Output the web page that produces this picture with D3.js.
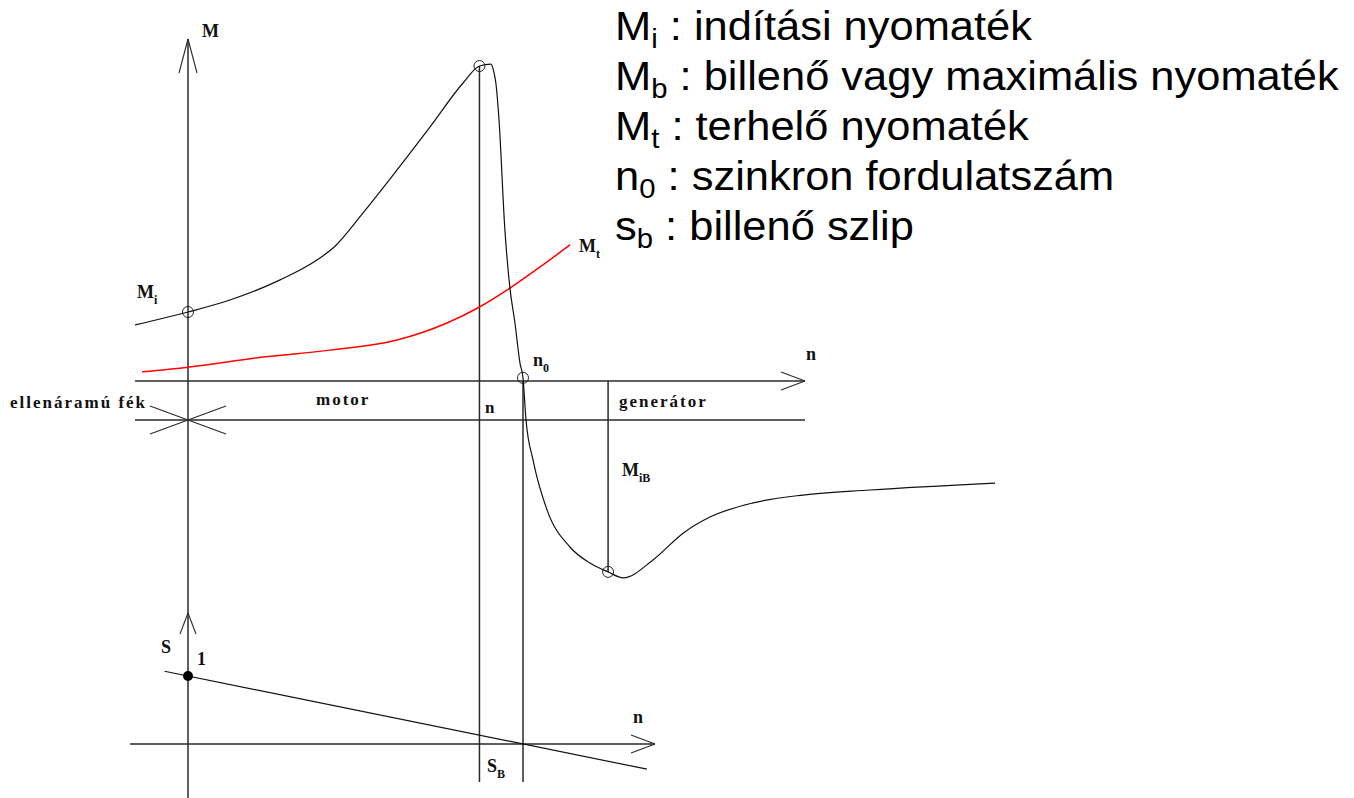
<!DOCTYPE html>
<html>
<head>
<meta charset="utf-8">
<script src="https://cdn.jsdelivr.net/npm/d3@7"></script>
<style>
    body { margin: 0; background: #fff; }
    svg { display: block; }
    .lbl { font-family: "Liberation Serif", "Times New Roman", serif; font-weight: bold; font-size: 18px; fill: #111; }
    .band { font-size: 17px; letter-spacing: 2px; }
    .legend { font-family: "Liberation Sans", Arial, sans-serif; font-size: 40px; fill: #000; }
</style>
</head>
<body>
<div id="chart"></div>
<script>
// n is relative speed (n/n0), M is torque relative to the breakdown torque Mb
const torqueN = [-0.158, 0, 0.125, 0.275, 0.385, 0.433, 0.522, 0.624, 0.722, 0.821, 0.87,
                 0.904, 0.913, 0.919, 0.928, 0.946, 0.961, 0.976, 0.991, 1.0, 1.009, 1.03,
                 1.072, 1.14, 1.2, 1.254, 1.299, 1.388, 1.478, 1.558, 1.687, 1.836, 2.036, 2.409];
const torqueM = [0.178, 0.219, 0.257, 0.321, 0.384, 0.422, 0.533, 0.67, 0.806, 0.946, 1.0,
                 1.006, 0.981, 0.946, 0.835, 0.479, 0.295, 0.184, 0.057, 0.01, -0.124, -0.251,
                 -0.41, -0.527, -0.578, -0.606, -0.625, -0.568, -0.483, -0.432, -0.387, -0.362, -0.346, -0.324];

// load torque Mt (red)
const loadN = [-0.137, 0, 0.224, 0.424, 0.624, 0.773, 0.87, 0.961, 1.051, 1.14];
const loadM = [0.029, 0.044, 0.076, 0.098, 0.13, 0.184, 0.235, 0.295, 0.362, 0.432];

// slip line s(n)
const slipN = [-0.07, 1.37];
const slipS = [1.07, -0.37];

// marked points: Mi, Mb, n0, MiB
const markN = [0, 0.87, 1, 1.254];
const markM = [0.219, 1.0, 0.01, -0.606];

const legendKeys = ["M", "M", "M", "n", "s"];
const legendSubs = ["i", "b", "t", "0", "b"];
const legendTexts = [" : indítási nyomaték", " : billenő vagy maximális nyomaték",
                     " : terhelő nyomaték", " : szinkron fordulatszám", " : billenő szlip"];

const bandLabels = ["ellenáramú fék", "motor", "n", "generátor"];

const W = 1354, H = 798;
const svg = d3.select("#chart").append("svg")
    .attr("width", W)
    .attr("height", H);

const x = d3.scaleLinear().domain([0, 1]).range([188, 523]);
const y = d3.scaleLinear().domain([0, 1]).range([381, 66]);
const ys = d3.scaleLinear().domain([0, 1]).range([744, 676]);

const axisColor = "#2a2a2a";
const g = svg.append("g");

function seg(x1, y1, x2, y2, w) {
    g.append("line")
        .attr("x1", x1).attr("y1", y1).attr("x2", x2).attr("y2", y2)
        .attr("stroke", axisColor)
        .attr("stroke-width", w || 1.5);
}

// open V arrow heads
function arrowUp(tx, ty, len, half) {
    seg(tx - half, ty + len, tx, ty, 1.1);
    seg(tx + half, ty + len, tx, ty, 1.1);
}
function arrowRight(tx, ty, len, half) {
    seg(tx - len, ty - half, tx, ty, 1.1);
    seg(tx - len, ty + half, tx, ty, 1.1);
}

// M axis (shared with the s axis)
const x0 = x(0);
seg(x0, 39, x0, H);
arrowUp(x0, 39, 34, 9);
arrowUp(x0, 613, 21, 8);

// n axis and band line
const yAxis = y(0);
const yBand = yAxis + 39;
seg(135, yAxis, 805, yAxis);
arrowRight(805, yAxis, 24, 9);
seg(135, yBand, 805, yBand);
seg(x0 - 38, yBand - 14, x0 + 38, yBand + 14, 1.1);
seg(x0 - 38, yBand + 14, x0 + 38, yBand - 14, 1.1);

// lower n axis
seg(130, ys(0), 655, ys(0));
arrowRight(655, ys(0), 24, 9);

// verticals
seg(x(markN[1]), y(markM[1]), x(markN[1]), 782);
seg(x(markN[2]), yAxis, x(markN[2]), 782);
seg(x(markN[3]), yAxis, x(markN[3]), y(markM[3]));

// curves
const torque = torqueN.map((n, i) => ({n: n, m: torqueM[i]}));
const load = loadN.map((n, i) => ({n: n, m: loadM[i]}));
const slip = slipN.map((n, i) => ({n: n, s: slipS[i]}));

const line = d3.line()
    .x(d => x(d.n))
    .y(d => y(d.m))
    .curve(d3.curveMonotoneX);

g.append("path")
    .datum(load)
    .attr("d", line)
    .attr("fill", "none")
    .attr("stroke", "#ff0000")
    .attr("stroke-width", 1.5);

g.append("path")
    .datum(torque)
    .attr("d", line)
    .attr("fill", "none")
    .attr("stroke", "#111")
    .attr("stroke-width", 1.2);

g.append("path")
    .datum(slip)
    .attr("d", d3.line().x(d => x(d.n)).y(d => ys(d.s)))
    .attr("fill", "none")
    .attr("stroke", "#111")
    .attr("stroke-width", 1.2);

g.selectAll("circle.mark")
    .data(markN.map((n, i) => ({n: n, m: markM[i]})))
    .enter().append("circle")
        .attr("class", "mark")
        .attr("cx", d => x(d.n))
        .attr("cy", d => y(d.m))
        .attr("r", 5.5)
        .attr("fill", "none")
        .attr("stroke", "#222")
        .attr("stroke-width", 1);

// s = 1 at standstill
g.append("circle")
    .attr("cx", x(0))
    .attr("cy", ys(1))
    .attr("r", 5)
    .attr("fill", "#000");

// labels
function label(tx, ty, main, sub, cls) {
    const t = g.append("text")
        .attr("class", "lbl" + (cls ? " " + cls : ""))
        .attr("x", tx)
        .attr("y", ty)
        .text(main);
    if (sub) {
        t.append("tspan")
            .attr("dy", 6)
            .attr("font-size", "12px")
            .text(sub);
    }
}

label(202, 37, "M");
label(137, 298, "M", "i");
label(579, 252, "M", "t");
label(533, 366, "n", "0");
label(806, 360, "n");
label(622, 476, "M", "iB");
label(161, 653, "S");
label(197, 665, "1");
label(633, 723, "n");
label(487, 772, "S", "B");

label(10, 408, bandLabels[0], null, "band");
label(316, 405, bandLabels[1], null, "band");
label(485, 413, bandLabels[2], null, "band");
label(619, 407, bandLabels[3], null, "band");

// legend
const legend = svg.append("g");
legendKeys.forEach((k, i) => {
    const t = legend.append("text")
        .attr("class", "legend")
        .attr("x", 0)
        .attr("y", 40 + i * 50);
    t.append("tspan").text(k);
    t.append("tspan").attr("dy", 8).attr("font-size", "27px").text(legendSubs[i]);
    t.append("tspan").attr("dy", -8).text(legendTexts[i]);
});
const wide = legend.selectAll("text").nodes()[1].getBBox().width;
legend.attr("transform", `translate(615,0) scale(${725 / wide},1)`);
</script>
</body>
</html>
